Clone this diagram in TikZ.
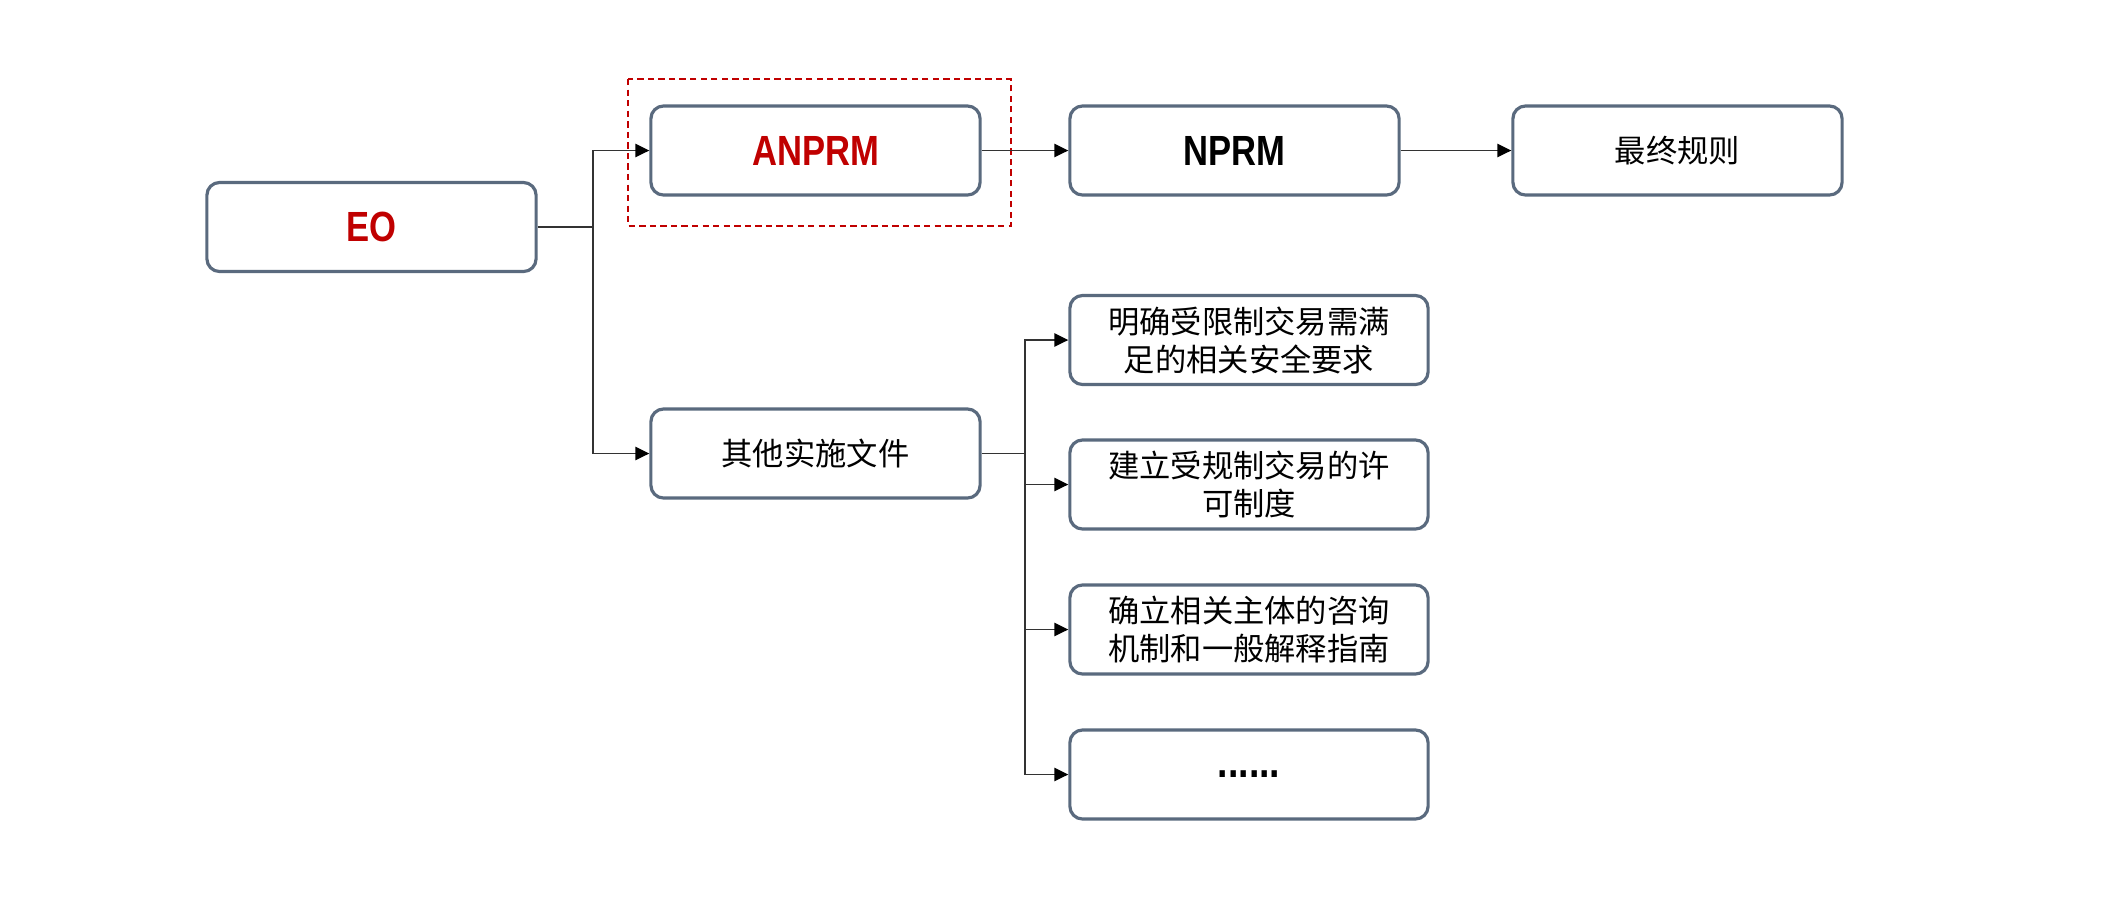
\documentclass[tikz,border=0pt]{standalone}
\usepackage{fontspec}
\setmainfont{Liberation Sans}
\newfontfamily\latinb[FakeStretch=0.82]{Liberation Sans}
\newfontfamily\cjk{Noto Sans CJK SC}
\usetikzlibrary{arrows.meta}
\definecolor{boxline}{HTML}{5A6A7E}
\definecolor{redtxt}{HTML}{C00000}
\definecolor{connc}{HTML}{333333}
\tikzset{
  box/.style={draw=boxline, line width=0.9pt, rounded corners=3.6pt, fill=white,
    minimum width=3.29cm, minimum height=0.89cm, inner sep=0pt, align=center},
  widebox/.style={box, minimum width=3.58cm},
  lat/.style={font=\latinb\bfseries\fontsize{12}{14}\selectfont},
  zh/.style={font=\cjk\fontsize{8.9}{10.8}\selectfont},
  conn/.style={draw=connc, line width=0.45pt},
  arr/.style={conn, -{Triangle[length=4pt,width=3.8pt,fill=black,color=black]}},
  hl/.style={draw=redtxt, line width=0.7pt, dash pattern=on 1.8pt off 1.2pt}
}
\begin{document}
\begin{tikzpicture}[x=0.01cm,y=-0.01cm]
\useasboundingbox (0,0) rectangle (2123,911);
\fill[white] (0,0) rectangle (2123,911);
\draw[hl] (628,79) rectangle (1011,226);
\node[box, lat, text=redtxt] (eo) at (371.5,227) {EO};
\node[box, lat, text=redtxt] (anprm) at (815.5,150.5) {ANPRM};
\node[box, lat] (nprm) at (1234.5,150.5) {NPRM};
\node[box, zh] (final) at (1677.5,150.5) {最终规则};
\node[box, zh] (other) at (815.5,453.5) {其他实施文件};
\node[widebox, zh] (r1) at (1249,340) {明确受限制交易需满\\足的相关安全要求};
\node[widebox, zh] (r2) at (1249,484.5) {建立受规制交易的许\\可制度};
\node[widebox, zh] (r3) at (1249,629.5) {确立相关主体的咨询\\机制和一般解释指南};
\node[widebox, font=\latinb\bfseries\fontsize{13}{15}\selectfont] (r4) at (1249,774.5) {......};
\coordinate (t1) at (593,227);
\coordinate (t2) at (1025,453.5);
\draw[conn] (eo.east) -- (t1);
\draw[arr] (t1) |- (anprm.west);
\draw[arr] (t1) |- (other.west);
\draw[arr] (anprm.east) -- (nprm.west);
\draw[arr] (nprm.east) -- (final.west);
\draw[conn] (other.east) -- (t2);
\draw[arr] (t2) |- (r1.west);
\draw[arr] (t2) |- (r2.west);
\draw[arr] (t2) |- (r3.west);
\draw[arr] (t2) |- (r4.west);
\end{tikzpicture}
\end{document}
